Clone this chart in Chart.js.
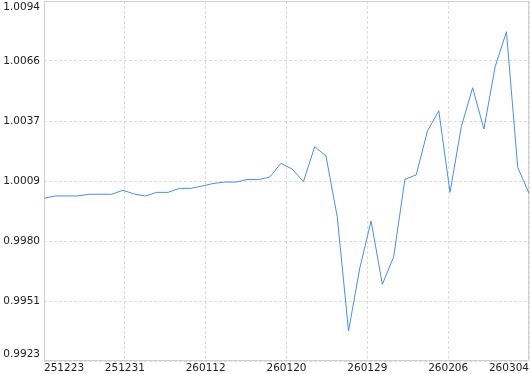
<!DOCTYPE html>
<html lang="en">
<head>
  <meta charset="UTF-8">
  <title>Index</title>
  <script src="https://cdn.jsdelivr.net/npm/chart.js"></script>
  <style>
    html, body { margin: 0; padding: 0; background: #fff; }
    #wrap { width: 530px; height: 374px; }
  </style>
</head>
<body>
  <div id="wrap"><canvas id="lineChart"></canvas></div>

  <script>
    // values, one point per trading day
    const values = [
      1.00003, 1.00014, 1.00014, 1.00014, 1.00022, 1.00022, 1.00022, 1.00041,
      1.00023, 1.00014, 1.00031, 1.00031, 1.00050, 1.00050, 1.00061, 1.00073,
      1.00080, 1.00080, 1.00092, 1.00092, 1.00103, 1.00169, 1.00142, 1.00082,
      1.00248, 1.00204, 0.99915, 0.99373, 0.99672, 0.99895, 0.99594, 0.99725,
      1.00093, 1.00114, 1.00323, 1.00419, 1.00031, 1.00343, 1.00528, 1.00332,
      1.00628, 1.00794, 1.00150, 1.00026
    ];
    const xTickLabels = ['251223', '251231', '260112', '260120', '260129', '260206', '260304'];
    const yTickLabels = ['0.9923', '0.9951', '0.9980', '1.0009', '1.0037', '1.0066', '1.0094'];
    const yMin = 0.9923;
    const yMax = 1.0094;

    const points = values.map((v, i) => ({ x: i, y: v }));
    const lastIdx = values.length - 1;
    const gridColor = '#dcdcdc';
    const fontSpec = { family: 'DejaVu Sans', size: 10.5 };

    // solid frame around the plot area
    const frame = {
      id: 'frame',
      beforeDatasetsDraw(chart) {
        const a = chart.chartArea;
        const ctx = chart.ctx;
        ctx.save();
        ctx.strokeStyle = '#cfcfcf';
        ctx.lineWidth = 1;
        ctx.strokeRect(Math.round(a.left) + 0.5, Math.round(a.top) + 0.5,
          Math.round(a.right - a.left) - 1, Math.round(a.bottom - a.top) - 1);
        ctx.restore();
      }
    };

    new Chart(document.getElementById('lineChart'), {
      type: 'line',
      data: {
        datasets: [{
          data: points,
          borderColor: '#4a8fe3',
          borderWidth: 1,
          pointRadius: 0,
          tension: 0,
          fill: false
        }]
      },
      options: {
        responsive: true,
        maintainAspectRatio: false,
        animation: false,
        layout: { padding: { top: 1, right: 1, left: 0, bottom: 0 } },
        plugins: {
          legend: { display: false },
          tooltip: { enabled: false }
        },
        scales: {
          x: {
            type: 'linear',
            min: 0,
            max: lastIdx,
            afterBuildTicks(scale) {
              scale.ticks = xTickLabels.map((t, i) => ({ value: lastIdx * i / (xTickLabels.length - 1) }));
            },
            afterFit(scale) {
              scale.height = 13;
            },
            ticks: {
              align: 'inner',
              padding: 1,
              color: '#222',
              font: fontSpec,
              maxRotation: 0,
              callback: (v, i) => xTickLabels[i]
            },
            grid: { color: gridColor, drawTicks: false },
            border: { display: false, dash: [3, 2] }
          },
          y: {
            min: yMin,
            max: yMax,
            afterBuildTicks(scale) {
              scale.ticks = yTickLabels.map((t, i) => ({ value: yMin + (yMax - yMin) * i / (yTickLabels.length - 1) }));
            },
            afterFit(scale) {
              scale.width = 44;
              scale.paddingTop = 0;
              scale.paddingBottom = 0;
            },
            ticks: {
              padding: 4,
              color: '#222',
              font: fontSpec,
              callback: (v, i) => {
                if (i === 0) return [yTickLabels[i], ''];
                if (i === yTickLabels.length - 1) return ['', yTickLabels[i]];
                return yTickLabels[i];
              }
            },
            grid: { color: gridColor, drawTicks: false },
            border: { display: false, dash: [3, 2] }
          }
        }
      },
      plugins: [frame]
    });
  </script>
</body>
</html>
